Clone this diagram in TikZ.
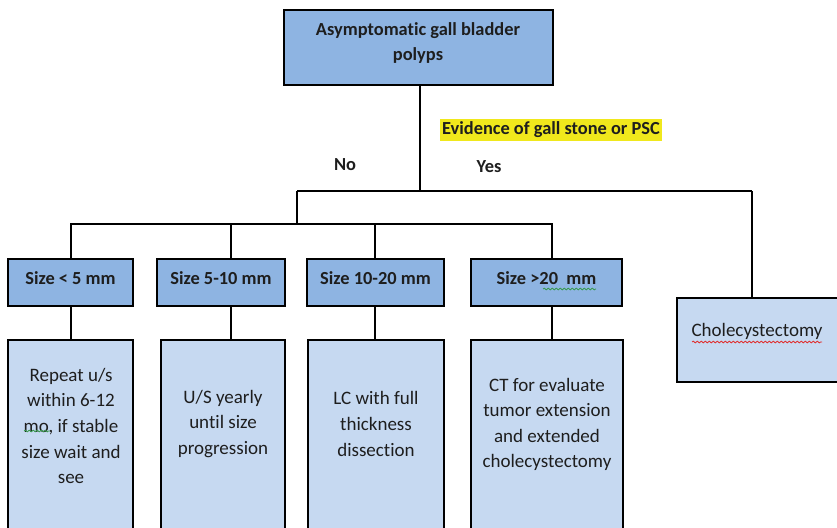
\documentclass[tikz,border=0pt]{standalone}
\usepackage{fontspec}
\setmainfont{Carlito}[Ligatures=NoCommon]
\usetikzlibrary{decorations.pathmorphing}
\definecolor{darkfill}{HTML}{8EB4E2}
\definecolor{lightfill}{HTML}{C6D9F1}
\definecolor{hilite}{HTML}{F0E81C}
\definecolor{txt}{HTML}{1E1E1E}
\definecolor{spellred}{HTML}{E03030}
\definecolor{spellgreen}{HTML}{3A9A50}
\begin{document}
\begin{tikzpicture}[x=1pt,y=-1pt,
  darkbox/.style={draw=black,line width=2.4pt,fill=darkfill,inner sep=0pt},
  lightbox/.style={draw=black,line width=2.4pt,fill=lightfill,inner sep=0pt},
  conn/.style={draw=black,line width=2pt},
  lbl/.style={font=\fontsize{19}{25.6}\selectfont,text=txt,align=center,inner sep=0pt},
  blbl/.style={lbl,font=\fontsize{18.4}{25.6}\selectfont\bfseries},
  squig/.style={decorate,decoration={snake,amplitude=0.9pt,segment length=4pt},line width=0.8pt}]
\useasboundingbox (0,0) rectangle (837,527);
% top box
\node[darkbox,minimum width=269pt,minimum height=75pt] (top) at (418.5,47.5) {};
\node[blbl] (toptxt) at (418,43) {Asymptomatic gall bladder\\polyps};
% labels
\node[blbl,fill=hilite,inner xsep=2pt,inner ysep=3pt] (evid) at (551,130) {Evidence of gall stone or PSC};
\node[blbl] (no) at (345,165) {No};
\node[blbl] (yes) at (489,167) {Yes};
% junctions
\coordinate (j1) at (420,191);
\coordinate (jl) at (297,191);
\coordinate (jr) at (752,191);
\coordinate (j2) at (297,224);
\coordinate (d1) at (71,224);
\coordinate (d2) at (231,224);
\coordinate (d3) at (375,224);
\coordinate (d4) at (552,224);
% cholecystectomy
\node[lightbox,minimum width=164pt,minimum height=84pt] (chole) at (759,340) {};
\node[lbl] (choletxt) at (757,331) {Cholecystectomy};
\draw[squig,spellred] (692,342) -- (822,342);
% size boxes
\node[darkbox,minimum width=125pt,minimum height=47pt] (s1) at (70.5,282.5) {};
\node[darkbox,minimum width=128pt,minimum height=47pt] (s2) at (221,282.5) {};
\node[darkbox,minimum width=137pt,minimum height=47pt] (s3) at (375.5,282.5) {};
\node[darkbox,minimum width=151pt,minimum height=47pt] (s4) at (546.5,282.5) {};
\node[blbl] (s1t) at (70.5,278) {Size < 5 mm};
\node[blbl] (s2t) at (221,278) {Size 5-10 mm};
\node[blbl] (s3t) at (375.5,278) {Size 10-20 mm};
\node[blbl] (s4t) at (546.5,278) {Size >20\ \ mm};
\draw[squig,spellgreen] (543,289) -- (596,289);
% bottom boxes (run past the lower edge)
\node[lightbox,anchor=north,minimum width=125pt,minimum height=200pt] (b1) at (70.5,339) {};
\node[lightbox,anchor=north,minimum width=124pt,minimum height=200pt] (b2) at (223,339) {};
\node[lightbox,anchor=north,minimum width=136pt,minimum height=200pt] (b3) at (376,339) {};
\node[lightbox,anchor=north,minimum width=152pt,minimum height=200pt] (b4) at (547,339) {};
\node[lbl] (b1t) at (71,426) {Repeat u/s\\within 6-12\\mo, if stable\\size wait and\\see};
\draw[squig,spellgreen] (24,431) -- (50,431);
\node[lbl] (b2t) at (223,424) {U/S yearly\\until size\\progression};
\node[lbl] (b3t) at (376,424) {LC with full\\thickness\\dissection};
\node[lbl] (b4t) at (547,424.5) {CT for evaluate\\tumor extension\\and extended\\cholecystectomy};
% connectors
\draw[conn] (top.south -| j1) -- (j1);
\draw[conn] (jl) -- (jr);
\draw[conn] (jr) -- (chole.north -| jr);
\draw[conn] (jl) -- (j2);
\draw[conn] (s1.north -| d1) -- (d1) -- (d4) -- (s4.north -| d4);
\draw[conn] (d2) -- (s2.north -| d2);
\draw[conn] (d3) -- (s3.north -| d3);
\draw[conn] (s1.south -| d1) -- (b1.north -| d1);
\draw[conn] (s2.south -| d2) -- (b2.north -| d2);
\draw[conn] (s3.south -| d3) -- (b3.north -| d3);
\draw[conn] (s4.south -| d4) -- (b4.north -| d4);
\end{tikzpicture}
\end{document}
